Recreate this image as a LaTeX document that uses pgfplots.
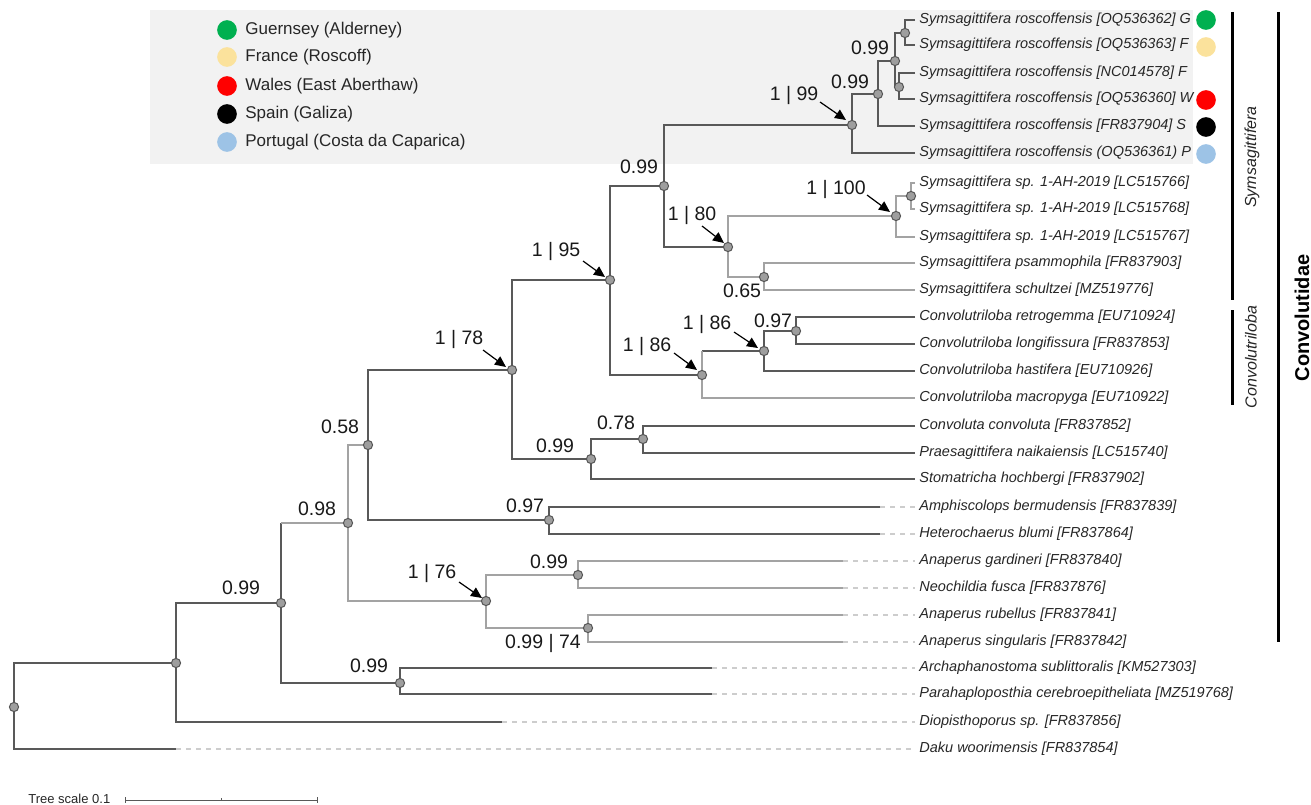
\documentclass[border=0pt]{standalone}
\usepackage{fontspec}
\setmainfont{Liberation Sans}
\usepackage{pgfplots}
\pgfplotsset{compat=1.18}
\usetikzlibrary{arrows.meta}
\definecolor{dk}{HTML}{595959}
\definecolor{lt}{HTML}{A3A3A3}
\definecolor{dsh}{HTML}{CDCDCD}
\definecolor{ndfill}{HTML}{9E9E9E}
\definecolor{ndedge}{HTML}{555555}
\definecolor{boxgray}{HTML}{F2F2F2}
\definecolor{cgreen}{HTML}{00B050}
\definecolor{cyellow}{HTML}{FBE29C}
\definecolor{cred}{HTML}{FF0000}
\definecolor{cblue}{HTML}{9DC3E6}
\tikzset{
  leaf/.style={anchor=west,font=\fontsize{7.25bp}{8bp}\selectfont\itshape,text=black!85,inner sep=0pt},
  nl/.style={font=\fontsize{9.75bp}{11bp}\selectfont,inner sep=0pt,text=black!90},
  lg/.style={anchor=west,font=\fontsize{8.5bp}{10bp}\selectfont,inner sep=0pt,text=black!85},
}
\pgfplotsset{dot/.style={#1,only marks,mark=*,mark size=4.6bp,mark options={fill=#1,draw=#1,line width=0.6bp}}}
\begin{document}
\begin{tikzpicture}
\begin{axis}[width=655.5bp,height=402.5bp,scale only axis,
  xmin=0,xmax=1311,ymin=0,ymax=805,y dir=reverse,
  hide axis,clip=false,unbounded coords=jump]
\path (rel axis cs:0,0) rectangle (rel axis cs:1,1);
% shaded box
\addplot[fill=boxgray,draw=none] coordinates {(150,10)(1193,10)(1193,164)(150,164)} -- cycle;
% dashed extensions
\addplot[dsh,line width=0.8bp,dash pattern=on 2.5bp off 2.5bp] coordinates {
(176,749)(915,749)(nan,nan)
(502,722)(915,722)(nan,nan)
(712,668)(915,668)(nan,nan)
(712,694)(915,694)(nan,nan)
(843,561)(915,561)(nan,nan)
(843,588)(915,588)(nan,nan)
(843,615)(915,615)(nan,nan)
(843,642)(915,642)(nan,nan)
(880,507)(915,507)(nan,nan)
(880,534)(915,534)};
% dark branches
\addplot[dk,line width=0.95bp] coordinates {
(176,663)(14,663)(14,749)(176,749)(nan,nan)
(281,603)(176,603)(176,722)(502,722)(nan,nan)
(281,523)(281,683)(400,683)(nan,nan)
(712,668)(400,668)(400,694)(712,694)(nan,nan)
(512,370)(368,370)(368,520)(549,520)(nan,nan)
(880,507)(549,507)(549,534)(880,534)(nan,nan)
(610,280)(512,280)(512,459)(591,459)(nan,nan)
(643,439)(591,439)(591,479)(915,479)(nan,nan)
(915,426)(643,426)(643,453)(915,453)(nan,nan)
(664,186)(610,186)(610,375)(702,375)(nan,nan)
(852,125)(664,125)(664,247)(728,247)(nan,nan)
(878,94)(852,94)(852,153)(915,153)(nan,nan)
(895,61)(878,61)(878,126)(915,126)(nan,nan)
(905,33)(895,33)(895,87)(899,87)(nan,nan)
(915,20)(905,20)(905,45)(915,45)(nan,nan)
(915,73)(899,73)(899,99)(915,99)(nan,nan)
(796,331)(764,331)(764,371)(915,371)(nan,nan)
(915,317)(796,317)(796,344)(915,344)(nan,nan)
(702,351)(764,351)};
% light branches
\addplot[lt,line width=0.95bp] coordinates {
(281,523)(348,523)(nan,nan)
(368,445)(348,445)(348,601)(486,601)(nan,nan)
(578,575)(486,575)(486,628)(588,628)(nan,nan)
(843,561)(578,561)(578,588)(843,588)(nan,nan)
(843,615)(588,615)(588,642)(843,642)(nan,nan)
(896,216)(728,216)(728,277)(764,277)(nan,nan)
(911,196)(896,196)(896,237)(915,237)(nan,nan)
(915,183)(911,183)(911,209)(915,209)(nan,nan)
(915,263)(764,263)(764,290)(915,290)(nan,nan)
(702,351)(702,398)(915,398)};
% internal nodes
\addplot[only marks,mark=*,mark size=2.3bp,mark options={fill=ndfill,draw=ndedge,line width=0.5bp}] coordinates {
(14,707)(176,663)(281,603)(348,523)(400,683)(368,445)(486,601)(578,575)(588,628)
(549,520)(512,370)(591,459)(643,439)(610,280)(702,375)(764,351)(796,331)
(664,186)(728,247)(764,277)(896,216)(911,196)(852,125)(878,94)(895,61)(905,33)(899,87)};
% arrows
\addplot[black,line width=0.6bp,-{Triangle[length=5.5bp,width=5bp]}] coordinates {(483,350)(506,367)};
\addplot[black,line width=0.6bp,-{Triangle[length=5.5bp,width=5bp]}] coordinates {(583,261)(605,277)};
\addplot[black,line width=0.6bp,-{Triangle[length=5.5bp,width=5bp]}] coordinates {(702,226)(724,243)};
\addplot[black,line width=0.6bp,-{Triangle[length=5.5bp,width=5bp]}] coordinates {(867,195)(890,212)};
\addplot[black,line width=0.6bp,-{Triangle[length=5.5bp,width=5bp]}] coordinates {(734,332)(758,348)};
\addplot[black,line width=0.6bp,-{Triangle[length=5.5bp,width=5bp]}] coordinates {(674,353)(697,370)};
\addplot[black,line width=0.6bp,-{Triangle[length=5.5bp,width=5bp]}] coordinates {(820,102)(846,120)};
\addplot[black,line width=0.6bp,-{Triangle[length=5.5bp,width=5bp]}] coordinates {(459,582)(482,598)};
% legend and tip circles
\addplot[dot=cgreen] coordinates {(227,30)(1206,20)};
\addplot[dot=cyellow] coordinates {(227,57)(1206,47)};
\addplot[dot=cred] coordinates {(227,86)(1206,100)};
\addplot[dot=black] coordinates {(227,114)(1206,127)};
\addplot[dot=cblue] coordinates {(227,142)(1206,154)};
% clade bars
\addplot[black,line width=1.5bp] coordinates {(1232,12)(1232,300)(nan,nan)(1232,310)(1232,405)(nan,nan)(1278,12)(1278,642)};
% tree scale
\addplot[dk,line width=0.5bp] coordinates {(125,797)(125,803)(nan,nan)(125,800)(317,800)(nan,nan)(317,797)(317,803)(nan,nan)(221,798)(221,800)};
\node[anchor=west,font=\fontsize{6.5bp}{7bp}\selectfont,inner sep=0pt,text=black!85] at (axis cs:28,799) {Tree scale 0.1};
% legend text
\node[lg] at (axis cs:245,30) {Guernsey (Alderney)};
\node[lg] at (axis cs:245,57) {France (Roscoff)};
\node[lg] at (axis cs:245,86) {Wales (East Aberthaw)};
\node[lg] at (axis cs:245,114) {Spain (Galiza)};
\node[lg] at (axis cs:245,142) {Portugal (Costa da Caparica)};
% leaf labels
\node[leaf] at (axis cs:919,20) {Symsagittifera roscoffensis [OQ536362] G};
\node[leaf] at (axis cs:919,45) {Symsagittifera roscoffensis [OQ536363] F};
\node[leaf] at (axis cs:919,73) {Symsagittifera roscoffensis [NC014578] F};
\node[leaf] at (axis cs:919,99) {Symsagittifera roscoffensis [OQ536360] W};
\node[leaf] at (axis cs:919,126) {Symsagittifera roscoffensis [FR837904] S};
\node[leaf] at (axis cs:919,153) {Symsagittifera roscoffensis (OQ536361) P};
\node[leaf] at (axis cs:919,183) {Symsagittifera sp. 1-AH-2019 [LC515766]};
\node[leaf] at (axis cs:919,209) {Symsagittifera sp. 1-AH-2019 [LC515768]};
\node[leaf] at (axis cs:919,237) {Symsagittifera sp. 1-AH-2019 [LC515767]};
\node[leaf] at (axis cs:919,263) {Symsagittifera psammophila [FR837903]};
\node[leaf] at (axis cs:919,290) {Symsagittifera schultzei [MZ519776]};
\node[leaf] at (axis cs:919,317) {Convolutriloba retrogemma [EU710924]};
\node[leaf] at (axis cs:919,344) {Convolutriloba longifissura [FR837853]};
\node[leaf] at (axis cs:919,371) {Convolutriloba hastifera [EU710926]};
\node[leaf] at (axis cs:919,398) {Convolutriloba macropyga [EU710922]};
\node[leaf] at (axis cs:919,426) {Convoluta convoluta [FR837852]};
\node[leaf] at (axis cs:919,453) {Praesagittifera naikaiensis [LC515740]};
\node[leaf] at (axis cs:919,479) {Stomatricha hochbergi [FR837902]};
\node[leaf] at (axis cs:919,507) {Amphiscolops bermudensis [FR837839]};
\node[leaf] at (axis cs:919,534) {Heterochaerus blumi [FR837864]};
\node[leaf] at (axis cs:919,561) {Anaperus gardineri [FR837840]};
\node[leaf] at (axis cs:919,588) {Neochildia fusca [FR837876]};
\node[leaf] at (axis cs:919,615) {Anaperus rubellus [FR837841]};
\node[leaf] at (axis cs:919,642) {Anaperus singularis [FR837842]};
\node[leaf] at (axis cs:919,668) {Archaphanostoma sublittoralis [KM527303]};
\node[leaf] at (axis cs:919,694) {Parahaploposthia cerebroepitheliata [MZ519768]};
\node[leaf] at (axis cs:919,722) {Diopisthoporus sp. [FR837856]};
\node[leaf] at (axis cs:919,749) {Daku woorimensis [FR837854]};
% node support labels
\node[nl] at (axis cs:241,588) {0.99};
\node[nl] at (axis cs:369,666) {0.99};
\node[nl] at (axis cs:317,509) {0.98};
\node[nl] at (axis cs:340,427) {0.58};
\node[nl] at (axis cs:459,339) {1 | 78};
\node[nl] at (axis cs:555,446) {0.99};
\node[nl] at (axis cs:616,423) {0.78};
\node[nl] at (axis cs:556,251) {1 | 95};
\node[nl] at (axis cs:639,167) {0.99};
\node[nl] at (axis cs:692,215) {1 | 80};
\node[nl] at (axis cs:836,189) {1 | 100};
\node[nl] at (axis cs:742,291) {0.65};
\node[nl] at (axis cs:707,324) {1 | 86};
\node[nl] at (axis cs:773,321) {0.97};
\node[nl] at (axis cs:647,346) {1 | 86};
\node[nl] at (axis cs:794,96) {1 | 99};
\node[nl] at (axis cs:850,82) {0.99};
\node[nl] at (axis cs:870,48) {0.99};
\node[nl] at (axis cs:525,506) {0.97};
\node[nl] at (axis cs:432,573) {1 | 76};
\node[nl] at (axis cs:549,562) {0.99};
\node[nl] at (axis cs:543,643) {0.99 | 74};
% clade labels
\node[rotate=90,font=\fontsize{8bp}{9bp}\selectfont\itshape,inner sep=0pt,text=black!85] at (axis cs:1252,157) {Symsagittifera};
\node[rotate=90,font=\fontsize{8bp}{9bp}\selectfont\itshape,inner sep=0pt,text=black!85] at (axis cs:1251,357) {Convolutriloba};
\node[rotate=90,font=\fontsize{10bp}{11bp}\selectfont\bfseries,inner sep=0pt] at (axis cs:1302,318) {Convolutidae};
\end{axis}
\end{tikzpicture}
\end{document}
